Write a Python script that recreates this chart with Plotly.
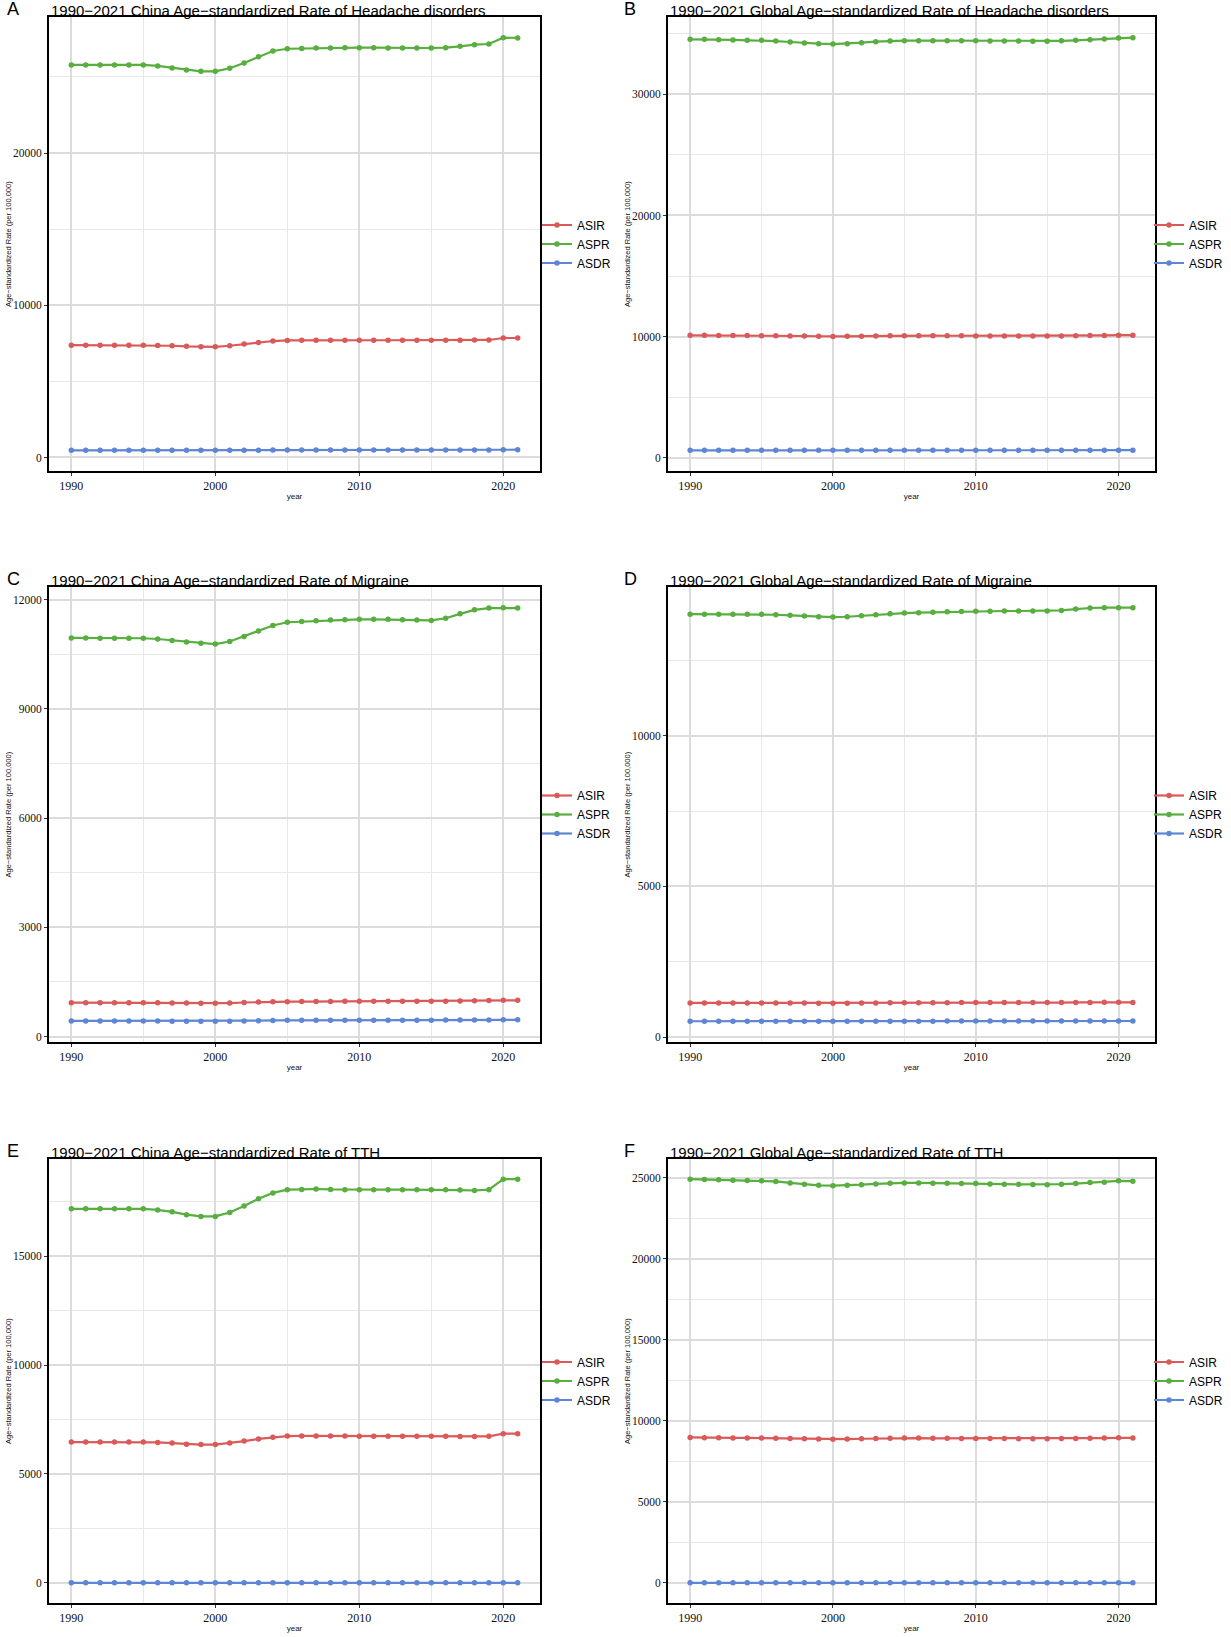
import plotly.graph_objects as go
from plotly.subplots import make_subplots

W, H = 1231, 1637

years = [1990, 1991, 1992, 1993, 1994, 1995, 1996, 1997, 1998, 1999,
         2000, 2001, 2002, 2003, 2004, 2005, 2006, 2007, 2008, 2009,
         2010, 2011, 2012, 2013, 2014, 2015, 2016, 2017, 2018, 2019,
         2020, 2021]

# A - China, headache disorders
china_headache_asir = [7380, 7380, 7380, 7380, 7380, 7380, 7360, 7340, 7300, 7270,
                       7270, 7340, 7450, 7560, 7650, 7690, 7700, 7700, 7700, 7700,
                       7700, 7700, 7700, 7700, 7700, 7700, 7700, 7700, 7710, 7720,
                       7850, 7850]
china_headache_aspr = [25790, 25790, 25790, 25790, 25790, 25790, 25720, 25590, 25460, 25370,
                       25370, 25570, 25920, 26320, 26700, 26850, 26870, 26900, 26900, 26920,
                       26920, 26920, 26900, 26900, 26900, 26900, 26920, 27010, 27120, 27160,
                       27580, 27560]
china_headache_asdr = [470, 470, 470, 470, 470, 470, 470, 470, 470, 470,
                       468, 470, 475, 480, 485, 488, 488, 488, 488, 488,
                       488, 488, 488, 488, 488, 488, 492, 495, 498, 500,
                       510, 510]

# B - Global, headache disorders
global_headache_asir = [10110, 10110, 10100, 10100, 10090, 10080, 10070, 10060, 10050, 10030,
                        10010, 10020, 10040, 10060, 10070, 10080, 10080, 10080, 10070, 10070,
                        10060, 10060, 10050, 10050, 10050, 10050, 10060, 10070, 10090, 10100,
                        10120, 10120]
global_headache_aspr = [34540, 34540, 34510, 34490, 34460, 34460, 34400, 34320, 34230, 34180,
                        34150, 34180, 34260, 34350, 34400, 34430, 34430, 34430, 34430, 34420,
                        34420, 34410, 34400, 34400, 34390, 34390, 34420, 34460, 34510, 34570,
                        34650, 34680]
global_headache_asdr = [615, 615, 614, 614, 613, 613, 612, 612, 611, 611,
                        610, 611, 612, 613, 614, 614, 615, 615, 615, 615,
                        615, 615, 615, 615, 615, 616, 617, 618, 619, 620,
                        622, 622]

# C - China, migraine
china_migraine_asir = [930, 930, 930, 930, 928, 928, 925, 922, 918, 915,
                       912, 920, 935, 948, 955, 958, 960, 962, 964, 966,
                       967, 967, 967, 966, 966, 966, 970, 978, 986, 992,
                       995, 995]
china_migraine_aspr = [10950, 10950, 10940, 10940, 10940, 10940, 10920, 10880, 10840, 10800,
                       10780, 10850, 10990, 11140, 11290, 11380, 11400, 11420, 11440, 11450,
                       11460, 11460, 11460, 11450, 11440, 11430, 11490, 11610, 11720, 11770,
                       11780, 11770]
china_migraine_asdr = [428, 428, 428, 427, 427, 427, 425, 423, 421, 419,
                       418, 422, 430, 437, 442, 445, 446, 447, 448, 449,
                       449, 449, 449, 449, 449, 449, 451, 453, 455, 457,
                       458, 458]

# D - Global, migraine
global_migraine_asir = [1135, 1135, 1135, 1135, 1134, 1134, 1132, 1130, 1128, 1125,
                        1124, 1126, 1130, 1134, 1138, 1140, 1142, 1143, 1144, 1145,
                        1146, 1146, 1146, 1146, 1146, 1146, 1147, 1150, 1152, 1153,
                        1153, 1152]
global_migraine_aspr = [14030, 14030, 14030, 14030, 14030, 14025, 14010, 13990, 13965, 13945,
                        13935, 13945, 13975, 14010, 14045, 14065, 14080, 14090, 14110, 14115,
                        14125, 14130, 14135, 14135, 14135, 14135, 14155, 14200, 14235, 14245,
                        14240, 14245]
global_migraine_asdr = [527, 527, 527, 527, 527, 527, 526, 526, 525, 525,
                        524, 525, 526, 527, 528, 529, 530, 530, 531, 531,
                        531, 531, 531, 531, 531, 531, 532, 533, 534, 535,
                        535, 535]

# E - China, TTH
china_tth_asir = [6465, 6465, 6465, 6465, 6465, 6465, 6450, 6420, 6370, 6350,
                  6350, 6420, 6510, 6610, 6690, 6740, 6745, 6745, 6740, 6740,
                  6735, 6735, 6735, 6735, 6735, 6735, 6730, 6725, 6720, 6730,
                  6850, 6850]
china_tth_aspr = [17180, 17180, 17180, 17180, 17180, 17180, 17130, 17040, 16910, 16830,
                  16830, 17010, 17310, 17640, 17910, 18060, 18070, 18090, 18070, 18060,
                  18060, 18060, 18060, 18060, 18060, 18060, 18050, 18040, 18020, 18060,
                  18540, 18540]
china_tth_asdr = [0, 0, 0, 0, 0, 0, 0, 0, 0, 0,
                  0, 0, 0, 0, 0, 0, 0, 0, 0, 0,
                  0, 0, 0, 0, 0, 0, 0, 0, 0, 0,
                  0, 0]

# F - Global, TTH
global_tth_asir = [8970, 8950, 8950, 8940, 8940, 8930, 8920, 8900, 8890, 8870,
                   8860, 8870, 8890, 8910, 8920, 8930, 8930, 8920, 8920, 8910,
                   8910, 8900, 8900, 8890, 8890, 8890, 8900, 8910, 8920, 8930,
                   8950, 8940]
global_tth_aspr = [24910, 24890, 24870, 24850, 24830, 24810, 24770, 24680, 24590, 24530,
                   24510, 24530, 24570, 24620, 24660, 24680, 24680, 24660, 24660, 24640,
                   24640, 24620, 24600, 24590, 24580, 24570, 24600, 24640, 24700, 24720,
                   24810, 24790]
global_tth_asdr = [0, 0, 0, 0, 0, 0, 0, 0, 0, 0,
                   0, 0, 0, 0, 0, 0, 0, 0, 0, 0,
                   0, 0, 0, 0, 0, 0, 0, 0, 0, 0,
                   0, 0]

panels = [
    ("A", "1990−2021 China Age−standardized Rate of Headache disorders",
     china_headache_asir, china_headache_aspr, china_headache_asdr, 10000),
    ("B", "1990−2021 Global Age−standardized Rate of Headache disorders",
     global_headache_asir, global_headache_aspr, global_headache_asdr, 10000),
    ("C", "1990−2021 China Age−standardized Rate of Migraine",
     china_migraine_asir, china_migraine_aspr, china_migraine_asdr, 3000),
    ("D", "1990−2021 Global Age−standardized Rate of Migraine",
     global_migraine_asir, global_migraine_aspr, global_migraine_asdr, 5000),
    ("E", "1990−2021 China Age−standardized Rate of TTH",
     china_tth_asir, china_tth_aspr, china_tth_asdr, 5000),
    ("F", "1990−2021 Global Age−standardized Rate of TTH",
     global_tth_asir, global_tth_aspr, global_tth_asdr, 5000),
]

colors = {"ASIR": "#D95A59", "ASPR": "#58AE3F", "ASDR": "#5E86D4"}

# pixel boxes of the panels (ggplot style frames)
col_px = [(49, 540), (668, 1155)]
row_px = [(17, 471), (587, 1042), (1159, 1603)]
letter_px = [5, 622]
ytitle_px = [8, 627]
legend_px = [537, 1149]

fig = make_subplots(rows=3, cols=2)

sans = "Liberation Sans"
serif = "Liberation Serif"

annotations = []
for i, (letter, title, asir, aspr, asdr, step) in enumerate(panels):
    row, col = i // 2 + 1, i % 2 + 1
    k = i + 1
    leg = "legend" if k == 1 else "legend%d" % k
    for name, vals in (("ASIR", asir), ("ASPR", aspr), ("ASDR", asdr)):
        fig.add_trace(go.Scatter(x=years, y=vals, name=name, mode="lines+markers",
                                 line=dict(color=colors[name], width=2.2),
                                 marker=dict(color=colors[name], size=5.5),
                                 legend=leg, showlegend=True),
                      row=row, col=col)

    allv = asir + aspr + asdr
    lo, hi = min(allv), max(allv)
    pad = 0.05 * (hi - lo)

    x0, x1 = col_px[col - 1]
    top, bot = row_px[row - 1]
    xd = [x0 / W, x1 / W]
    yd = [1 - bot / H, 1 - top / H]

    fig.update_xaxes(domain=xd, range=[1988.45, 2022.55],
                     tickvals=[1990, 2000, 2010, 2020],
                     showgrid=True, gridcolor="#dcdcdc", gridwidth=1.8,
                     minor=dict(dtick=5, tick0=1990, showgrid=True,
                                gridcolor="#e8e8e8", gridwidth=1.1),
                     showline=True, linecolor="black", linewidth=2, mirror=True,
                     ticks="outside", ticklen=3, tickcolor="#333",
                     tickfont=dict(family=serif, size=12, color="#111"),
                     zeroline=False,
                     title=dict(text="year", font=dict(family=sans, size=8, color="#111"),
                                standoff=1),
                     row=row, col=col)
    fig.update_yaxes(domain=yd, range=[lo - pad, hi + pad],
                     dtick=step, tick0=0, tickformat="d",
                     showgrid=True, gridcolor="#dcdcdc", gridwidth=1.8,
                     minor=dict(dtick=step / 2, tick0=0, showgrid=True,
                                gridcolor="#e8e8e8", gridwidth=1.1),
                     showline=True, linecolor="black", linewidth=2, mirror=True,
                     ticks="outside", ticklen=3, tickcolor="#333",
                     tickfont=dict(family=serif, size=11.5, color="#111"),
                     zeroline=False,
                     row=row, col=col)

    annotations.append(dict(x=x0 / W, y=1 - top / H, xref="paper", yref="paper",
                            xanchor="left", yanchor="bottom", yshift=-4,
                            text=title, showarrow=False,
                            font=dict(family=sans, size=15, color="black")))
    annotations.append(dict(x=letter_px[col - 1] / W, y=1 - top / H, xref="paper", yref="paper",
                            xanchor="left", yanchor="bottom", yshift=-4,
                            text=letter, showarrow=False,
                            font=dict(family=sans, size=18, color="black")))
    annotations.append(dict(x=ytitle_px[col - 1] / W, y=1 - (top + bot) / 2 / H,
                            xref="paper", yref="paper", xanchor="center", yanchor="middle",
                            text="Age−standardized Rate (per 100,000)", textangle=-90,
                            showarrow=False,
                            font=dict(family=sans, size=7.5, color="#111")))

    fig.update_layout({leg: dict(x=legend_px[col - 1] / W, y=1 - (top + bot) / 2 / H,
                                 xanchor="left", yanchor="middle",
                                 font=dict(family=sans, size=12, color="black"),
                                 itemwidth=30, tracegroupgap=0,
                                 bgcolor="rgba(0,0,0,0)")})

fig.update_layout(width=W, height=H, autosize=False,
                  margin=dict(l=0, r=0, t=0, b=0),
                  paper_bgcolor="white", plot_bgcolor="white",
                  annotations=annotations)

# the page body has a default 8px margin; drop it so the figure fills the window
fig.write_html("out.html", config={"displayModeBar": False},
               post_script="document.body.style.margin='0px';"
                           "document.body.style.overflow='hidden';")
